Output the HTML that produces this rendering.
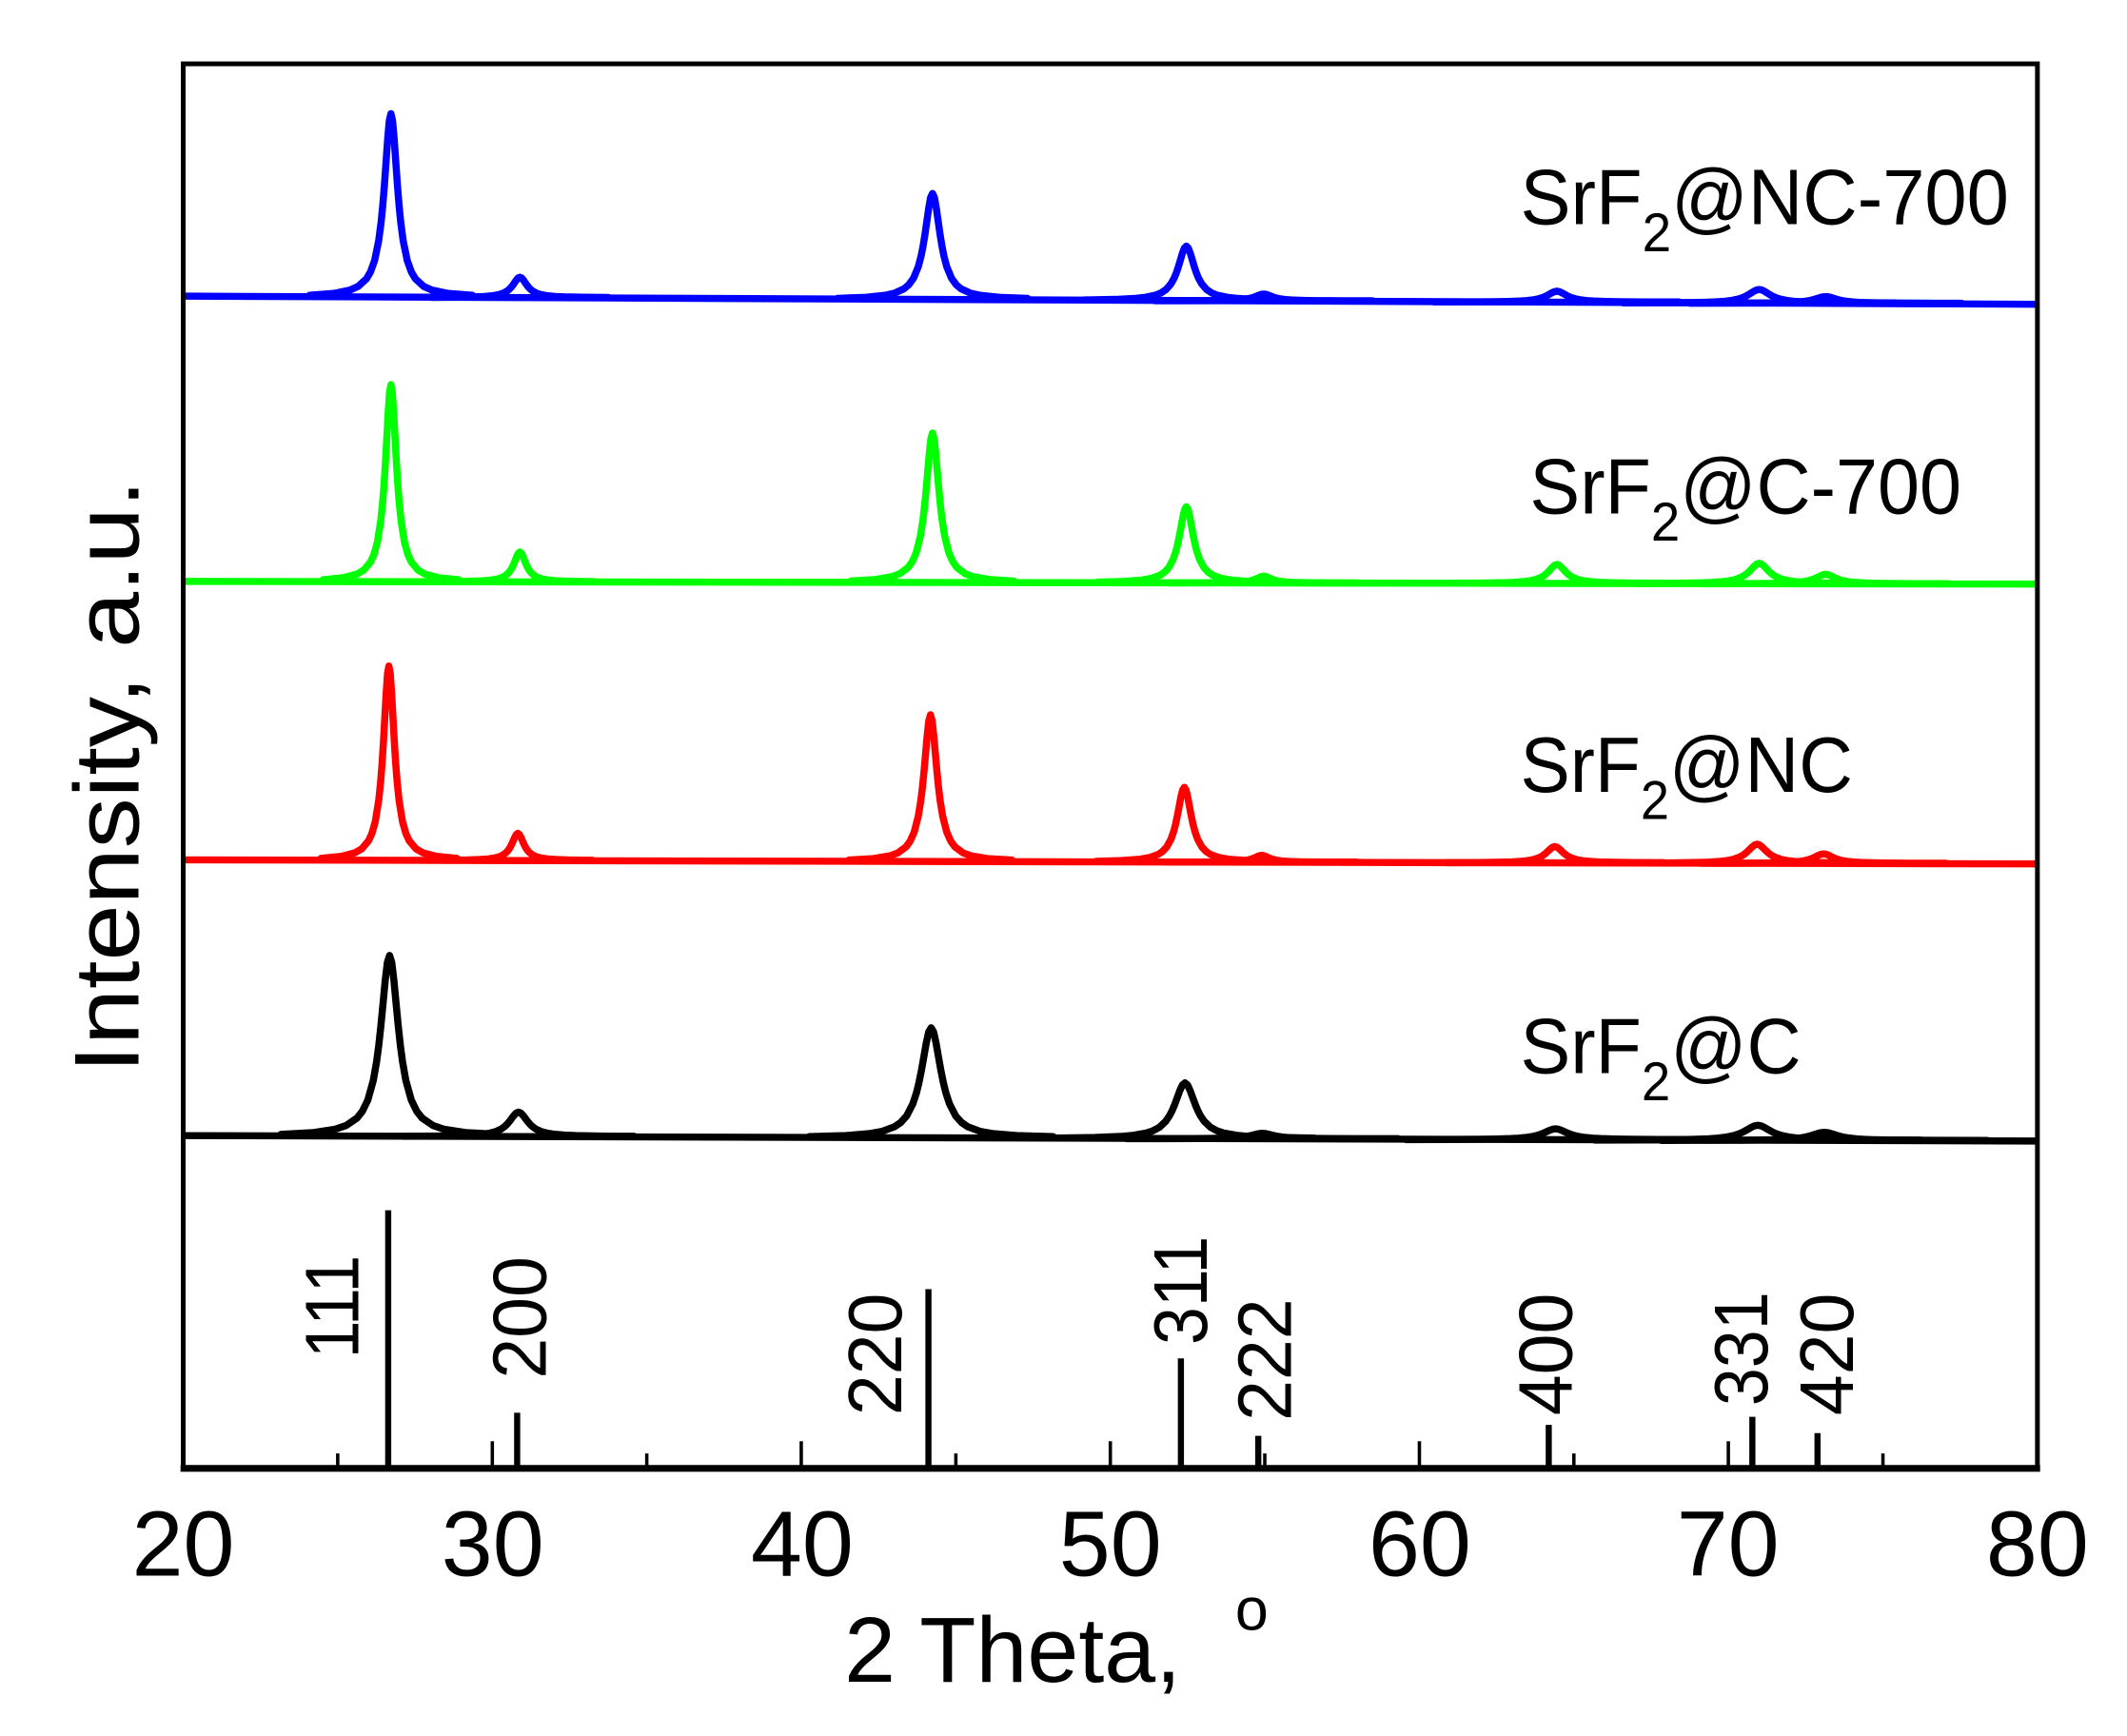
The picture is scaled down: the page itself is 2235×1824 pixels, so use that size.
<!DOCTYPE html>
<html><head><meta charset="utf-8"><style>
html,body{margin:0;padding:0;background:#fff;}
svg{display:block;}
text{font-family:"Liberation Sans",Arial,sans-serif;fill:#000;}
.pk{fill:none;stroke-linejoin:round;stroke-linecap:round;}
.pk use{stroke-width:7.5;}
</style></head><body>
<svg width="2235" height="1824" viewBox="0 0 1567 1278" preserveAspectRatio="none" xmlns="http://www.w3.org/2000/svg">
<defs>
<path id="L" vector-effect="non-scaling-stroke" d="M-10 -0.0099L-7 -0.02L-5 -0.0385L-4 -0.0588L-3 -0.1L-2.5 -0.138L-2 -0.2L-1.5 -0.308L-1.2 -0.41L-1 -0.5L-0.8 -0.61L-0.6 -0.735L-0.4 -0.862L-0.2 -0.962L0 -1L0.2 -0.962L0.4 -0.862L0.6 -0.735L0.8 -0.61L1 -0.5L1.2 -0.41L1.5 -0.308L2 -0.2L2.5 -0.138L3 -0.1L4 -0.0588L5 -0.0385L7 -0.02L10 -0.0099"/>
</defs>
<g class="pk" stroke="#0000ff">
<line x1="136" y1="218" x2="1500" y2="224" stroke-width="5.2"/>
<use href="#L" transform="translate(288,218.7) scale(6,135)"/>
<use href="#L" transform="translate(383,219.1) scale(6.5,15)"/>
<use href="#L" transform="translate(687,220.4) scale(7,78)"/>
<use href="#L" transform="translate(874,221.2) scale(7.5,40)"/>
<use href="#L" transform="translate(931,221.5) scale(8,5)"/>
<use href="#L" transform="translate(1147,222.4) scale(9,8)"/>
<use href="#L" transform="translate(1296,223.1) scale(10,10)"/>
<use href="#L" transform="translate(1345,223.3) scale(10,5)"/>
</g>
<g class="pk" stroke="#00ff00">
<line x1="136" y1="428" x2="1500" y2="430" stroke-width="5.2"/>
<use href="#L" transform="translate(288,428.2) scale(5,145)"/>
<use href="#L" transform="translate(383,428.4) scale(5.5,22)"/>
<use href="#L" transform="translate(687,428.8) scale(6,110)"/>
<use href="#L" transform="translate(874,429.1) scale(6.5,56)"/>
<use href="#L" transform="translate(931,429.2) scale(7,5)"/>
<use href="#L" transform="translate(1147,429.5) scale(8,14)"/>
<use href="#L" transform="translate(1296,429.7) scale(9,15)"/>
<use href="#L" transform="translate(1345,429.8) scale(9,7)"/>
</g>
<g class="pk" stroke="#ff0000">
<line x1="136" y1="633" x2="1500" y2="636" stroke-width="5.2"/>
<use href="#L" transform="translate(286.5,633.3) scale(5,143)"/>
<use href="#L" transform="translate(381.5,633.5) scale(5.5,20)"/>
<use href="#L" transform="translate(685.5,634.2) scale(6,108)"/>
<use href="#L" transform="translate(872.5,634.6) scale(6.5,55)"/>
<use href="#L" transform="translate(929.5,634.7) scale(7,5)"/>
<use href="#L" transform="translate(1145.5,635.2) scale(8,12)"/>
<use href="#L" transform="translate(1294.5,635.5) scale(9,14)"/>
<use href="#L" transform="translate(1343.5,635.6) scale(9,7)"/>
</g>
<g class="pk" stroke="#000000">
<line x1="136" y1="836" x2="1500" y2="840" stroke-width="5.2"/>
<use href="#L" transform="translate(287,836.4) scale(8,133)"/>
<use href="#L" transform="translate(382,836.7) scale(8.5,18)"/>
<use href="#L" transform="translate(686,837.6) scale(9,81)"/>
<use href="#L" transform="translate(873,838.2) scale(9.5,41)"/>
<use href="#L" transform="translate(930,838.3) scale(10,4)"/>
<use href="#L" transform="translate(1146,839) scale(11,8)"/>
<use href="#L" transform="translate(1295,839.4) scale(12,11)"/>
<use href="#L" transform="translate(1344,839.6) scale(12,6)"/>
</g>
<g stroke="#000" stroke-width="4.5">
<line x1="286" y1="891" x2="286" y2="1081"/>
<line x1="381" y1="1040" x2="381" y2="1081"/>
<line x1="684" y1="949" x2="684" y2="1081"/>
<line x1="870" y1="1000" x2="870" y2="1081"/>
<line x1="927" y1="1057" x2="927" y2="1081"/>
<line x1="1141" y1="1049" x2="1141" y2="1081"/>
<line x1="1291" y1="1043" x2="1291" y2="1081"/>
<line x1="1339" y1="1055" x2="1339" y2="1081"/>
</g>
<g font-size="56">
<text transform="translate(264,1000) rotate(-90)" textLength="76" lengthAdjust="spacingAndGlyphs">111</text>
<text transform="translate(402,1015) rotate(-90)" textLength="90" lengthAdjust="spacingAndGlyphs">200</text>
<text transform="translate(664,1042) rotate(-90)" textLength="90" lengthAdjust="spacingAndGlyphs">220</text>
<text transform="translate(889,990) rotate(-90)" textLength="80" lengthAdjust="spacingAndGlyphs">311</text>
<text transform="translate(951,1046) rotate(-90)" textLength="90" lengthAdjust="spacingAndGlyphs">222</text>
<text transform="translate(1158,1042) rotate(-90)" textLength="90" lengthAdjust="spacingAndGlyphs">400</text>
<text transform="translate(1302,1035) rotate(-90)" textLength="84" lengthAdjust="spacingAndGlyphs">331</text>
<text transform="translate(1365,1042) rotate(-90)" textLength="90" lengthAdjust="spacingAndGlyphs">420</text>
</g>
<rect x="135" y="47" width="1366" height="1034" fill="none" stroke="#000" stroke-width="3.5"/>
<line x1="133" y1="1081" x2="1503" y2="1081" stroke="#000" stroke-width="5"/>
<g stroke="#000" stroke-width="2.5">
<line x1="248.8" y1="1070" x2="248.8" y2="1081"/><line x1="362.7" y1="1061" x2="362.7" y2="1081"/>
<line x1="476.5" y1="1070" x2="476.5" y2="1081"/><line x1="590.3" y1="1061" x2="590.3" y2="1081"/>
<line x1="704.2" y1="1070" x2="704.2" y2="1081"/><line x1="818" y1="1061" x2="818" y2="1081"/>
<line x1="931.8" y1="1070" x2="931.8" y2="1081"/><line x1="1045.7" y1="1061" x2="1045.7" y2="1081"/>
<line x1="1159.5" y1="1070" x2="1159.5" y2="1081"/><line x1="1273.3" y1="1061" x2="1273.3" y2="1081"/>
<line x1="1387.2" y1="1070" x2="1387.2" y2="1081"/>
</g>
<g font-size="68" text-anchor="middle">
<text x="135" y="1160">20</text><text x="363" y="1160">30</text><text x="591" y="1160">40</text>
<text x="818" y="1160">50</text><text x="1046" y="1160">60</text><text x="1273" y="1160">70</text><text x="1501" y="1160">80</text>
</g>
<text x="622" y="1238" font-size="68">2 Theta,</text>
<text x="910" y="1200" font-size="44">o</text>
<text transform="translate(102,790) rotate(-90)" font-size="68" textLength="437" lengthAdjust="spacingAndGlyphs">Intensity, a.u.</text>
<g font-size="58">
<text x="1120" y="165" textLength="360" lengthAdjust="spacingAndGlyphs">SrF<tspan font-size="40" dy="20">2</tspan><tspan dy="-20">@NC-700</tspan></text>
<text x="1127" y="378" textLength="318" lengthAdjust="spacingAndGlyphs">SrF<tspan font-size="40" dy="20">2</tspan><tspan dy="-20">@C-700</tspan></text>
<text x="1120" y="583" textLength="245" lengthAdjust="spacingAndGlyphs">SrF<tspan font-size="40" dy="20">2</tspan><tspan dy="-20">@NC</tspan></text>
<text x="1120" y="790" textLength="207" lengthAdjust="spacingAndGlyphs">SrF<tspan font-size="40" dy="20">2</tspan><tspan dy="-20">@C</tspan></text>
</g>
</svg>
</body></html>
